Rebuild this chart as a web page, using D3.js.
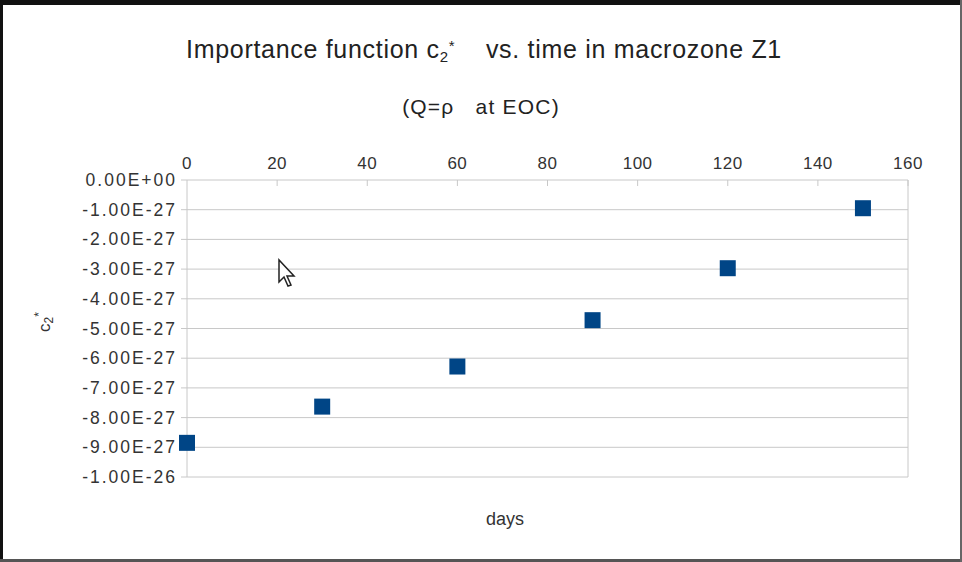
<!DOCTYPE html>
<html><head><meta charset="utf-8">
<script src="https://cdn.jsdelivr.net/npm/d3@7"></script>
<style>
html,body{margin:0;padding:0;background:#fff;}
svg{display:block;font-family:"Liberation Sans",Arial,sans-serif;}
</style></head>
<body><svg id="c" width="962" height="562"></svg>
<script>
const days = [0, 30, 60, 90, 120, 150];
const c2 = [-8.85e-27, -7.63e-27, -6.28e-27, -4.72e-27, -2.97e-27, -0.95e-27];
const xTicks = [0, 20, 40, 60, 80, 100, 120, 140, 160];
const yTicks = [0, -1e-27, -2e-27, -3e-27, -4e-27, -5e-27, -6e-27, -7e-27, -8e-27, -9e-27, -1e-26];
const yTickLabels = ["0.00E+00","-1.00E-27","-2.00E-27","-3.00E-27","-4.00E-27","-5.00E-27","-6.00E-27","-7.00E-27","-8.00E-27","-9.00E-27","-1.00E-26"];

const svg = d3.select("#c");
const W = 962, H = 562;
const m = {left:187, right:908, top:180, bottom:477};
const x = d3.scaleLinear().domain([0,160]).range([m.left, m.right]);
const y = d3.scaleLinear().domain([0,-1e-26]).range([m.top, m.bottom]);

// frame
svg.append("rect").attr("x",0).attr("y",0).attr("width",W).attr("height",H).attr("fill","#fff");
svg.append("rect").attr("x",0).attr("y",0).attr("width",W).attr("height",5).attr("fill","#111");
svg.append("rect").attr("x",0).attr("y",0).attr("width",3).attr("height",H).attr("fill","#111");
svg.append("rect").attr("x",0).attr("y",H-3).attr("width",W).attr("height",3).attr("fill","#555");
svg.append("rect").attr("x",W-2).attr("y",0).attr("width",2).attr("height",H).attr("fill","#666");

// gridlines
const grid = svg.append("g");
grid.selectAll("line.h").data(yTicks).join("line")
  .attr("x1", m.left - 6).attr("x2", m.right)
  .attr("y1", d=>y(d)).attr("y2", d=>y(d))
  .attr("stroke","#c8c8c8").attr("stroke-width",1);
grid.selectAll("line.v").data(xTicks).join("line")
  .attr("x1", d=>x(d)).attr("x2", d=>x(d))
  .attr("y1", m.top).attr("y2", d=> d===0 ? m.bottom : m.top+6)
  .attr("stroke","#c8c8c8").attr("stroke-width",1);
svg.append("line").attr("x1",m.right).attr("x2",m.right).attr("y1",m.top).attr("y2",m.bottom)
  .attr("stroke","#c8c8c8");

// top x axis labels
svg.append("g").selectAll("text").data(xTicks).join("text")
  .attr("x", d=>x(d)).attr("y", m.top - 11)
  .attr("text-anchor","middle").attr("font-size",17).attr("letter-spacing",0.5).attr("fill","#333")
  .text(d=>d);

// y labels
svg.append("g").selectAll("text").data(yTicks).join("text")
  .attr("x", m.left - 10).attr("y", d=>y(d)+6)
  .attr("text-anchor","end").attr("font-size",17.5).attr("letter-spacing",2).attr("fill","#333")
  .text((d,i)=>yTickLabels[i]);

// points
const s = 16;
svg.append("g").selectAll("rect").data(days).join("rect")
  .attr("x", (d)=>x(d)-s/2).attr("y",(d,i)=>y(c2[i])-s/2)
  .attr("width",s).attr("height",s).attr("fill","#004586");

// title
const t = svg.append("text").attr("x",484).attr("y",58).attr("text-anchor","middle")
  .attr("font-size",25).attr("letter-spacing",0.7).attr("fill","#222").attr("xml:space","preserve");
t.append("tspan").text("Importance function c");
t.append("tspan").attr("font-size",15).attr("dy",4).text("2");
t.append("tspan").attr("font-size",15).attr("dy",-11).text("*");
t.append("tspan").attr("dy",7).text("    vs. time in macrozone Z1");

svg.append("text").attr("x",481).attr("y",114).attr("text-anchor","middle")
  .attr("font-size",21).attr("letter-spacing",1.2).attr("fill","#222").attr("xml:space","preserve").text("(Q=\u03C1   at EOC)");

// x title
svg.append("text").attr("x",505).attr("y",525).attr("text-anchor","middle")
  .attr("font-size",18).attr("fill","#333").text("days");

// y title
const yt = svg.append("text").attr("transform","translate(50,322) rotate(-90)")
  .attr("text-anchor","middle").attr("font-size",17).attr("fill","#333");
yt.append("tspan").text("c");
yt.append("tspan").attr("font-size",12).attr("dy",3).text("2");
yt.append("tspan").attr("font-size",12).attr("dy",-10).text("*");

// mouse cursor decoration
svg.append("path").attr("d","M279,260 L279,282 L284,277 L288,286 L291,285 L287,276 L294,276 Z")
  .attr("fill","#fff").attr("stroke","#222").attr("stroke-width",1.5);
</script></body></html>
